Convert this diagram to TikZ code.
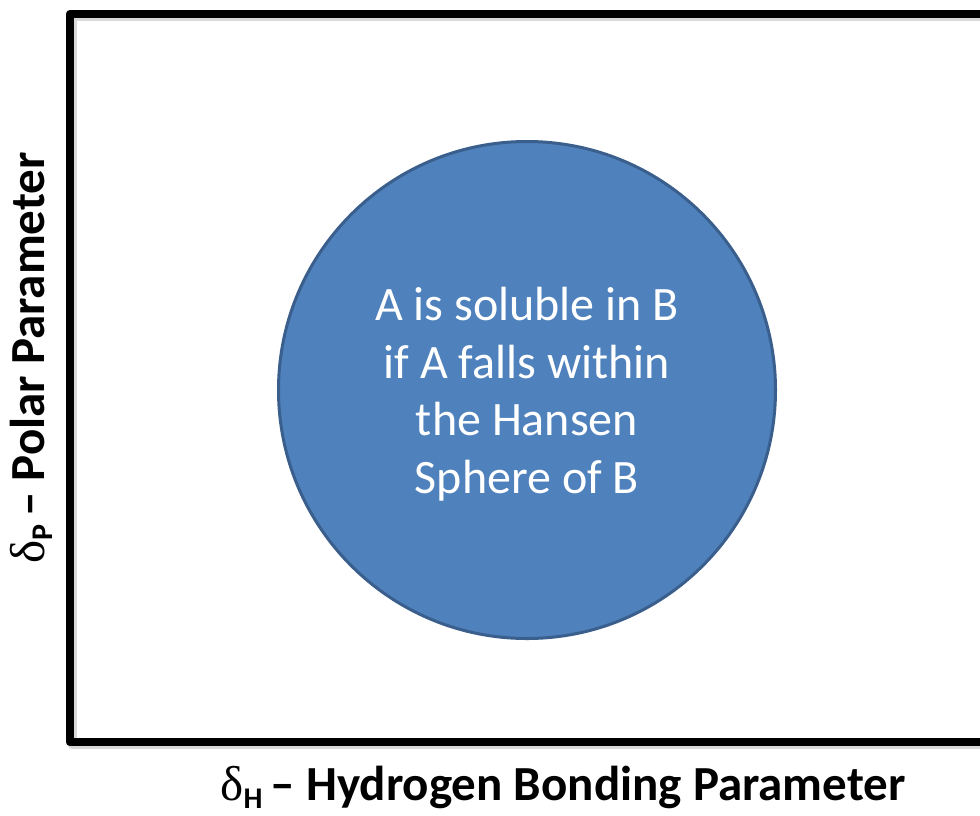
\documentclass[tikz,border=0pt]{standalone}
\usepackage{fontspec}
\setmainfont{Carlito}
\newfontfamily\deltafont{Liberation Serif}
\definecolor{circfill}{HTML}{4F81BD}
\definecolor{circdraw}{HTML}{3A5F8C}
\newcommand{\axlab}[2]{{\deltafont δ}\raisebox{-0.17em}{\fontsize{30}{30}\selectfont\bfseries #1}\,\bfseries #2}
\begin{document}
\begin{tikzpicture}[x=1pt,y=-1pt,
  framestyle/.style={line width=8.5pt,line join=round},
  axislabel/.style={font=\fontsize{49}{58}\selectfont,inner sep=0pt},
  circtext/.style={font=\fontsize{48}{57.5}\selectfont,text=white,align=center,inner sep=0pt}]
\useasboundingbox (0,0) rectangle (980,815);
\fill[white] (0,0) rectangle (980,815);
% shadow of frame
\draw[framestyle,black!25,opacity=0.6] (72.5,17) rectangle (986.5,745);
\draw[framestyle] (70,14) rectangle (984,742);
\node[circle,fill=circfill,draw=circdraw,line width=3pt,minimum size=497pt,inner sep=0pt] (sphere) at (527,390) {};
\node[circtext] (txt) at (527,394) {A is soluble in B\\if A falls within\\the Hansen\\Sphere of B};
\node[axislabel] (xlab) at (563,787) {\axlab{H}{– Hydrogen Bonding Parameter}};
\node[axislabel,rotate=90] (ylab) at (31,358) {\axlab{P}{– Polar Parameter}};
\end{tikzpicture}
\end{document}
